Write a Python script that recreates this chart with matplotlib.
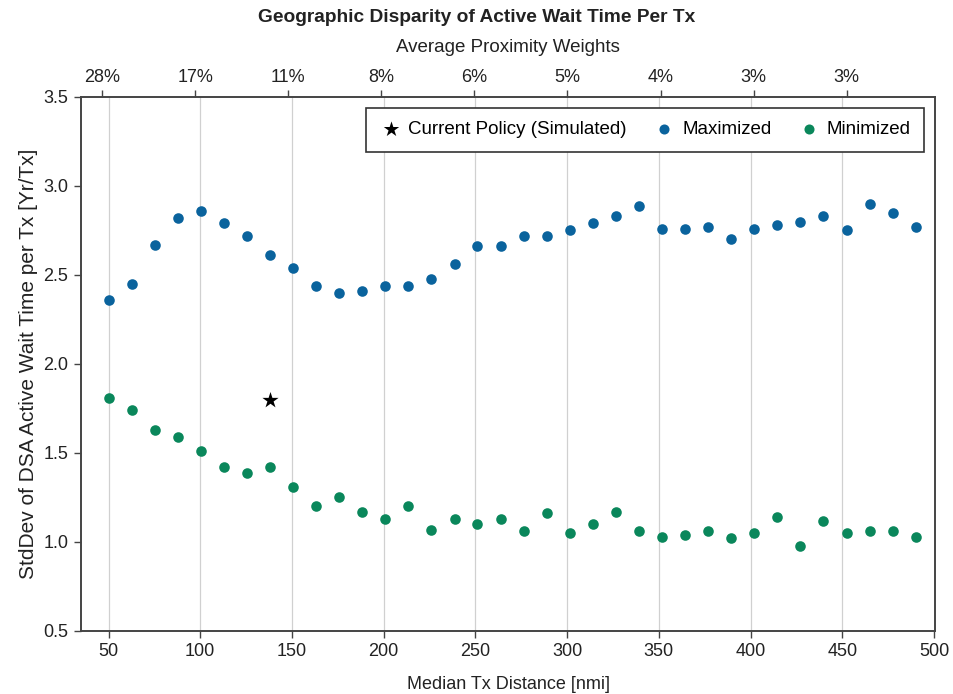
import matplotlib.pyplot as plt

plt.rcParams['font.family'] = ['Liberation Sans', 'DejaVu Sans']

# median tx distance [nmi] for each simulated weight setting
distance = [50.0, 62.6, 75.1, 87.7, 100.3, 112.9, 125.4, 138.0, 150.6, 163.1,
            175.7, 188.3, 200.9, 213.4, 226.0, 238.6, 251.1, 263.7, 276.3, 288.9,
            301.4, 314.0, 326.6, 339.1, 351.7, 364.3, 376.9, 389.4, 402.0, 414.6,
            427.1, 439.7, 452.3, 464.9, 477.4, 490.0]

maximized = [2.36, 2.45, 2.67, 2.82, 2.86, 2.79, 2.72, 2.61, 2.54, 2.44,
             2.40, 2.41, 2.44, 2.44, 2.48, 2.56, 2.66, 2.66, 2.72, 2.72,
             2.75, 2.79, 2.83, 2.89, 2.76, 2.76, 2.77, 2.70, 2.76, 2.78,
             2.80, 2.83, 2.75, 2.90, 2.85, 2.77]

minimized = [1.81, 1.74, 1.63, 1.59, 1.51, 1.42, 1.39, 1.42, 1.31, 1.20,
             1.25, 1.17, 1.13, 1.20, 1.07, 1.13, 1.10, 1.13, 1.06, 1.16,
             1.05, 1.10, 1.17, 1.06, 1.03, 1.04, 1.06, 1.02, 1.05, 1.14,
             0.98, 1.12, 1.05, 1.06, 1.06, 1.03]

current_x = [138.0]
current_y = [1.80]

bottom_ticks = [50, 100, 150, 200, 250, 300, 350, 400, 450, 500]
top_ticks = [50, 100, 150, 200, 250, 300, 350, 400, 450]
top_labels = ['28%', '17%', '11%', '8%', '6%', '5%', '4%', '3%', '3%']
y_ticks = [0.5, 1.0, 1.5, 2.0, 2.5, 3.0, 3.5]

blue = '#0a639d'
green = '#0a875b'
spine_col = '#444444'
text_col = '#222222'

fig = plt.figure(figsize=(9.54, 6.94), dpi=100)
ax = fig.add_axes([0.0849, 0.0908, 0.8952, 0.7695])

for x in bottom_ticks[:-1]:
    ax.axvline(x, color='#d0d0d0', linewidth=0.9, zorder=0)

ax.scatter(current_x, current_y, marker='*', s=150, color='black',
           linewidths=0, label='Current Policy (Simulated)', zorder=3)
ax.scatter(distance, maximized, s=58, color=blue, linewidths=0,
           label='Maximized', zorder=3)
ax.scatter(distance, minimized, s=58, color=green, linewidths=0,
           label='Minimized', zorder=3)

ax.set_xlim(35, 500.5)
ax.set_ylim(0.5, 3.5)
ax.set_xticks(bottom_ticks)
ax.set_yticks(y_ticks)
ax.set_yticklabels([f'{v:.1f}' for v in y_ticks])
ax.tick_params(axis='both', labelsize=13, color=spine_col, length=5,
               width=1.0, labelcolor=text_col, pad=4)
ax.set_xlabel('Median Tx Distance [nmi]', fontsize=13, color=text_col,
              labelpad=11)
ax.set_ylabel('StdDev of DSA Active Wait Time per Tx [Yr/Tx]', fontsize=15,
              color=text_col, labelpad=4)

# secondary axis on top: average proximity weight at each distance
top = ax.twiny()
top.set_xlim(38.7, 497.4)
top.set_xticks(top_ticks)
top.set_xticklabels(top_labels)
top.tick_params(axis='x', labelsize=13, color=spine_col, length=5,
                width=1.0, labelcolor=text_col, pad=3)
top.set_xlabel('Average Proximity Weights', fontsize=13.5, color=text_col,
               labelpad=12)

for a in (ax, top):
    for s in a.spines.values():
        s.set_color(spine_col)
        s.set_linewidth(1.2)

leg = ax.legend(loc='upper right', ncol=3, fontsize=13.5, frameon=True,
                fancybox=False, edgecolor='#333333', framealpha=1,
                handlelength=1.2, handletextpad=0.35, columnspacing=1.4,
                borderpad=0.7, borderaxespad=0,
                bbox_to_anchor=(0.987, 0.979), markerscale=0.95)
leg.get_frame().set_linewidth(1.2)

fig.text(0.5, 1 - 18 / 694, 'Geographic Disparity of Active Wait Time Per Tx',
         ha='center', va='center', fontsize=13.8, fontweight='bold',
         color=text_col)

fig.savefig('out.png', dpi=100)
